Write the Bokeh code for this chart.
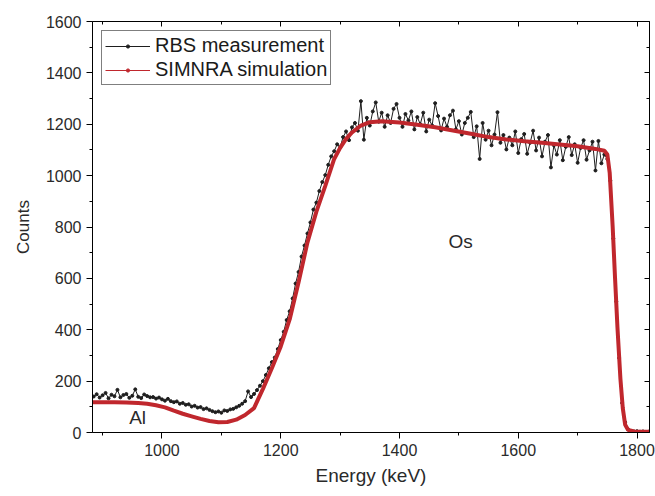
from bokeh.plotting import figure
from bokeh.models import (Range1d, LinearAxis, SingleIntervalTicker, Legend,
                          LegendItem, ColumnDataSource, Label,
                          CustomJSTickFormatter)
from bokeh.embed import file_html
from bokeh.resources import INLINE

# ---------------- data ----------------
# RBS measurement: channel energies (keV) and counts
meas_energy = list(range(885, 1821, 5))
meas_counts = [
    140, 149, 136, 145, 154, 133, 147, 141, 166, 137, 146, 150, 135, 143, 168, 139, 134, 148, 142, 137,
    138, 132, 136, 129, 124, 131, 122, 118, 121, 112, 115, 108, 110, 101, 104, 97, 99, 91, 94, 88,
    83, 79, 82, 77, 86, 84, 90, 92, 98, 104, 112, 122, 160, 138, 150, 165, 182, 200, 224, 250,
    274, 292, 325, 360, 392, 438, 472, 522, 580, 625, 685, 728, 775, 818, 868, 895, 940, 975, 1002, 1042,
    1075, 1095, 1122, 1110, 1150, 1172, 1138, 1188, 1205, 1175, 1290, 1140, 1225, 1195, 1250, 1285, 1210, 1245, 1190, 1235,
    1205, 1260, 1279, 1225, 1190, 1240, 1215, 1250, 1180, 1228, 1200, 1245, 1172, 1218, 1195, 1282, 1232, 1176, 1222, 1190,
    1235, 1253, 1180, 1212, 1160, 1205, 1225, 1248, 1150, 1192, 1065, 1205, 1140, 1175, 1118, 1160, 1247, 1128, 1158, 1102,
    1148, 1118, 1172, 1088, 1142, 1162, 1085, 1128, 1175, 1098, 1148, 1075, 1132, 1158, 1032, 1118, 1082, 1138, 1060, 1112,
    1150, 1080, 1122, 1050, 1108, 1138, 1062, 1098, 1132, 1020, 1135, 1048, 1082, 1065, 980, 755, 510, 290, 115, 40,
    12, 6, 4, 5, 3, 4, 2, 3,
]

# SIMNRA simulation
sim_energy = [883, 900, 920, 940, 960, 975, 990, 1005, 1020, 1035,
              1050, 1065, 1080, 1095, 1110, 1125, 1140, 1155, 1170, 1185,
              1200, 1215, 1230, 1245, 1260, 1275, 1290, 1300, 1310, 1320,
              1335, 1350, 1370, 1400, 1430, 1460, 1490, 1520, 1550, 1580,
              1610, 1640, 1670, 1700, 1730, 1745, 1750, 1754, 1759, 1763,
              1767, 1772, 1776, 1780, 1785, 1795, 1821]
sim_counts = [118, 118, 118, 117, 115, 112, 106, 98, 85, 73,
              63, 53, 45, 40, 41, 50, 68, 95, 170, 250,
              335, 440, 585, 740, 860, 960, 1065, 1108, 1143, 1168,
              1195, 1208, 1212, 1207, 1198, 1188, 1176, 1163, 1150, 1141,
              1134, 1128, 1121, 1114, 1104, 1097, 1082, 1010, 800, 600,
              410, 210, 95, 30, 10, 4, 3]

series_labels = ["RBS measurement", "SIMNRA simulation"]
annotations = [("Os", 1503, 745), ("Al", 959, 57)]

FONT = "Liberation Sans"
RED = "#c0272d"
BLACK = "#1e1e1e"

# ---------------- figure ----------------
p = figure(width=655, height=496, output_backend="svg", toolbar_location=None,
           x_range=Range1d(883, 1821), y_range=Range1d(0, 1600),
           min_border_left=92, min_border_right=6, min_border_top=21,
           min_border_bottom=64,
           x_axis_label="Energy (keV)", y_axis_label="Counts")
p.outline_line_color = None
p.xgrid.visible = False
p.ygrid.visible = False

for ax in (p.xaxis[0], p.yaxis[0]):
    ax.ticker = SingleIntervalTicker(interval=200, num_minor_ticks=2)
    ax.axis_line_color = "black"
    ax.major_tick_line_color = "black"
    ax.minor_tick_line_color = "black"
    ax.major_tick_in = 0
    ax.major_tick_out = 6
    ax.minor_tick_in = 0
    ax.minor_tick_out = 3
    ax.major_label_text_font = FONT
    ax.major_label_text_font_size = "16px"
    ax.major_label_text_color = "#2a2a2a"
    ax.major_label_standoff = 5
    ax.axis_label_text_font = FONT
    ax.axis_label_text_font_style = "normal"
    ax.axis_label_text_color = "#2a2a2a"

p.xaxis[0].axis_label_text_font_size = "19px"
p.xaxis[0].axis_label_standoff = 6
p.yaxis[0].axis_label_text_font_size = "17px"
p.yaxis[0].axis_label_standoff = 10

for loc in ("above", "right"):
    ax = LinearAxis(ticker=SingleIntervalTicker(interval=200, num_minor_ticks=2),
                    formatter=CustomJSTickFormatter(code="return '';"),
                    major_label_standoff=0, major_label_text_font_size="8px",
                    major_tick_in=5, major_tick_out=0, minor_tick_in=3,
                    minor_tick_out=0, axis_line_color="black",
                    major_tick_line_color="black", minor_tick_line_color="black")
    p.add_layout(ax, loc)

# ---------------- data renderers ----------------
meas_src = ColumnDataSource(dict(x=meas_energy, y=meas_counts))
sim_src = ColumnDataSource(dict(x=sim_energy, y=sim_counts))

m_line = p.line("x", "y", source=meas_src, line_color=BLACK, line_width=1)
m_dot = p.scatter("x", "y", source=meas_src, size=3, fill_color=BLACK,
                  line_color=BLACK)
p.line("x", "y", source=sim_src, line_color=RED, line_width=4)

# legend-only renderers for the simulation (thin line + dot), no visible data
nan = float("nan")
leg_src = ColumnDataSource(dict(x=[nan], y=[nan]))
s_leg_line = p.line("x", "y", source=leg_src, line_color=RED, line_width=1)
s_leg_dot = p.scatter("x", "y", source=leg_src, size=3, fill_color=RED,
                      line_color=RED)

legend = Legend(items=[
    LegendItem(label=series_labels[0], renderers=[m_line, m_dot]),
    LegendItem(label=series_labels[1], renderers=[s_leg_line, s_leg_dot]),
], location=(9, 347), label_text_font=FONT, label_text_font_size="20px",
   label_text_color="#1a1a1a", glyph_width=45, glyph_height=8,
   label_standoff=5, spacing=1, padding=3, margin=0,
   border_line_color="black", border_line_width=1,
   background_fill_color="white", background_fill_alpha=1.0)
p.add_layout(legend, "center")

for txt, xv, yv in annotations:
    p.add_layout(Label(x=xv, y=yv, text=txt, text_align="center",
                       text_baseline="middle", text_font=FONT,
                       text_font_size="19px", text_color="#2a2a2a"))

open("out.html", "w").write(file_html(p, INLINE))
